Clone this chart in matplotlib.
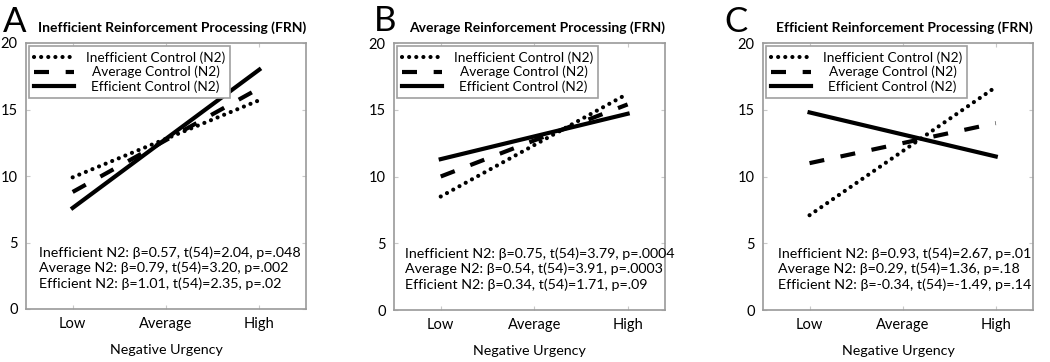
import matplotlib
matplotlib.use('Agg')
import matplotlib.pyplot as plt
from matplotlib import rcParams
rcParams['font.family'] = 'Lato'

# x levels of negative urgency
levels = ['Low', 'Average', 'High']
level_pos = [1, 2, 3]
line_pos = [1, 3]   # lines are drawn from Low to High

series_names = ['Inefficient Control (N2)', 'Average Control (N2)', 'Efficient Control (N2)']

# values at Low / High for each panel
ineff_A = [9.9, 15.7]
avg_A = [8.8, 16.6]
eff_A = [7.6, 18.0]

ineff_B = [8.5, 16.2]
avg_B = [10.0, 15.4]
eff_B = [11.3, 14.7]

ineff_C = [7.1, 16.7]
avg_C = [11.0, 14.0]
eff_C = [14.8, 11.5]

titles = ['Inefficient Reinforcement Processing (FRN)',
          'Average Reinforcement Processing (FRN)',
          'Efficient Reinforcement Processing (FRN)']
letters = ['A', 'B', 'C']

stats_A = ['Inefficient N2: β=0.57, t(54)=2.04, p=.048',
           'Average N2: β=0.79, t(54)=3.20, p=.002',
           'Efficient N2: β=1.01, t(54)=2.35, p=.02']
stats_B = ['Inefficient N2: β=0.75, t(54)=3.79, p=.0004',
           'Average N2: β=0.54, t(54)=3.91, p=.0003',
           'Efficient N2: β=0.34, t(54)=1.71, p=.09']
stats_C = ['Inefficient N2: β=0.93, t(54)=2.67, p=.01',
           'Average N2: β=0.29, t(54)=1.36, p=.18',
           'Efficient N2: β=-0.34, t(54)=-1.49, p=.14']

yticks = [0, 5, 10, 15, 20]

W, H = 1050, 362
fig = plt.figure(figsize=(W / 100, H / 100), dpi=100)

# axes boxes in pixels: left, top, right, bottom
boxes = [(26, 43, 306, 309), (394, 43, 665, 310), (763, 43, 1033, 310)]
xlims = [(0.5, 3.5), (0.5, 3.4), (0.5, 3.4)]
letter_pos = [(3, 32), (374, 31), (724, 32)]
stat_x = [0.045, 0.04, 0.055]

panels = [(ineff_A, avg_A, eff_A, stats_A),
          (ineff_B, avg_B, eff_B, stats_B),
          (ineff_C, avg_C, eff_C, stats_C)]

spine_c = '#9a9a9a'
lw = 3.0
legends = []
for i, (ineff, avg, eff, stats) in enumerate(panels):
    l, t, r, b = boxes[i]
    ax = fig.add_axes([l / W, 1 - b / H, (r - l) / W, (b - t) / H])

    h1, = ax.plot(line_pos, ineff, color='black', lw=lw, ls=(0, (0.01, 1.7)),
                  dash_capstyle='round')
    h2, = ax.plot(line_pos, avg, color='black', lw=lw, ls=(0, (3.6, 4.0)))
    h3, = ax.plot(line_pos, eff, color='black', lw=lw)

    ax.set_xlim(xlims[i])
    ax.set_ylim(0, 20)
    ax.set_xticks(level_pos)
    ax.set_xticklabels(levels)
    ax.set_yticks(yticks)
    ax.tick_params(direction='in', length=3, width=0.8, color='#c8c8c8',
                   top=True, right=True, labelsize=10.5, pad=6)
    for s in ax.spines.values():
        s.set_color(spine_c)
        s.set_linewidth(1.2)
    ax.set_xlabel('Negative Urgency', fontsize=10.3, labelpad=9)
    ax.set_title(titles[i], loc='right', fontsize=10, fontweight='bold', pad=8)

    ax.text(stat_x[i], 0.235, '\n'.join(stats), transform=ax.transAxes,
            fontsize=10.3, ha='left', va='top', linespacing=1.27)

    leg = ax.legend([h1, h2, h3], series_names, loc='upper left', fontsize=9.8,
                    handlelength=2.9, handletextpad=0.9, labelspacing=0.15,
                    borderpad=0.35, borderaxespad=0.25, fancybox=False,
                    framealpha=1, edgecolor='#a0a0a0')
    leg.get_frame().set_linewidth(1.2)
    legends.append(leg)

    fig.text(letter_pos[i][0] / W, 1 - letter_pos[i][1] / H, letters[i],
             fontsize=25, ha='left', va='baseline')

# centre the legend labels within their column
fig.canvas.draw()
rend = fig.canvas.get_renderer()
for leg in legends:
    texts = leg.get_texts()
    widths = [tx.get_window_extent(rend).width for tx in texts]
    for tx, w in zip(texts, widths):
        tx.set_x((max(widths) - w) / 2)

fig.savefig('out.png', dpi=100)
